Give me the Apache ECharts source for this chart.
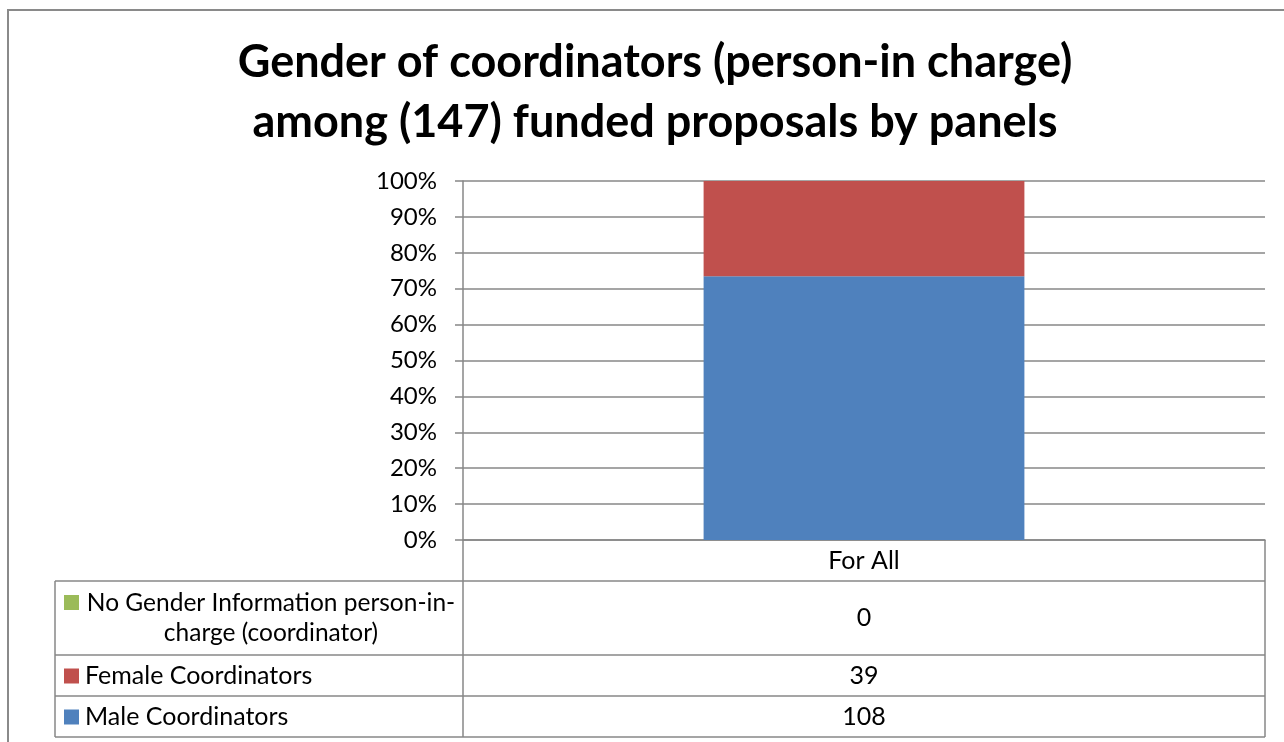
<!DOCTYPE html>
<html>
<head>
<meta charset="utf-8">
<script src="https://cdn.jsdelivr.net/npm/echarts@6/dist/echarts.min.js"></script>
<style>
html,body{margin:0;padding:0;background:#fff;}
#chart{width:1284px;height:742px;}
</style>
</head>
<body>
<div id="chart"></div>
<script>
// ---- data ----
var titleText = 'Gender of coordinators (person-in charge)\namong (147) funded proposals by panels';
var categories = ['For All'];
var seriesNames = ['No Gender Information person-in-\ncharge (coordinator)', 'Female Coordinators', 'Male Coordinators'];
var noGenderValues = [0];
var femaleValues = [39];
var maleValues = [108];
var yTickLabels = ['0%','10%','20%','30%','40%','50%','60%','70%','80%','90%','100%'];

var colors = { noGender: '#9BBB59', female: '#C0504D', male: '#4F81BD' };
var FONT = 'Lato';
var GRID = '#878787';
var FS = 24;
var TFS = 25;

var totals = categories.map(function (c, i) { return noGenderValues[i] + femaleValues[i] + maleValues[i]; });
function pct(arr) { return arr.map(function (v, i) { return v / totals[i] * 100; }); }

var chart = echarts.init(document.getElementById('chart'), null, { renderer: 'canvas' });

var gridLeft = 463, gridRight = 1265, gridTop = 181, gridBottom = 540;
var tableRows = [581, 655, 696, 737];
var tableLeft = 55;

var rowsData = [
  { name: seriesNames[0], values: noGenderValues, color: colors.noGender, top: tableRows[0], bottom: tableRows[1] },
  { name: seriesNames[1], values: femaleValues, color: colors.female, top: tableRows[1], bottom: tableRows[2] },
  { name: seriesNames[2], values: maleValues, color: colors.male, top: tableRows[2], bottom: tableRows[3] }
];

var graphics = [];
// outer frame
graphics.push({ type: 'rect', shape: { x: 8, y: 10, width: 1300, height: 760 }, style: { fill: 'none', stroke: '#8a8a8a', lineWidth: 2 }, silent: true });
function hline(x1, x2, y) {
  graphics.push({ type: 'line', shape: { x1: x1, y1: y, x2: x2, y2: y }, style: { stroke: GRID, lineWidth: 1.5 }, silent: true });
}
function vline(x, y1, y2) {
  graphics.push({ type: 'line', shape: { x1: x, y1: y1, x2: x, y2: y2 }, style: { stroke: GRID, lineWidth: 1.5 }, silent: true });
}
// table lines
vline(gridLeft, gridBottom, tableRows[3]);
vline(gridRight, gridBottom, tableRows[3]);
vline(tableLeft, tableRows[0], tableRows[3]);
tableRows.forEach(function (y) { hline(tableLeft, gridRight, y); });

var colCenter = (gridLeft + gridRight) / 2;
rowsData.forEach(function (r, idx) {
  var cy = (r.top + r.bottom) / 2;
  var multi = r.name.indexOf('\n') >= 0;
  graphics.push({ type: 'rect', shape: { x: 64, y: (multi ? r.top + 14 : cy - 7), width: 15, height: 15 }, style: { fill: r.color }, silent: true });
  graphics.push({
    type: 'text', x: multi ? 271 : 85, y: cy,
    style: { text: r.name, font: (multi ? 24.5 : TFS) + 'px ' + FONT, fill: '#000', textAlign: multi ? 'center' : 'left', textVerticalAlign: 'middle', lineHeight: 30 },
    silent: true
  });
  graphics.push({
    type: 'text', x: colCenter, y: cy,
    style: { text: String(r.values[0]), font: TFS + 'px ' + FONT, fill: '#000', textAlign: 'center', textVerticalAlign: 'middle' },
    silent: true
  });
});

var option = {
  backgroundColor: '#fff',
  animation: false,
  title: {
    text: titleText,
    left: 650, top: 27, textAlign: 'center',
    textStyle: { fontFamily: FONT, fontWeight: 'bold', fontSize: 45, lineHeight: 60, color: '#000' }
  },
  grid: { left: gridLeft, right: 1284 - gridRight, top: gridTop, bottom: 742 - gridBottom, containLabel: false },
  xAxis: {
    type: 'category', data: categories,
    axisLine: { show: true, lineStyle: { color: GRID, width: 1.5 } },
    axisTick: { show: false },
    axisLabel: { fontFamily: FONT, fontSize: TFS, color: '#000', margin: 8 }
  },
  yAxis: {
    type: 'value', min: 0, max: 100, interval: 10,
    axisLine: { show: true, lineStyle: { color: GRID, width: 1.5 } },
    axisTick: { show: true, length: 8, lineStyle: { color: GRID, width: 1.5 } },
    splitLine: { show: true, lineStyle: { color: GRID, width: 1.5 } },
    axisLabel: {
      fontFamily: FONT, fontSize: FS, color: '#000', margin: 26,
      formatter: function (v) { return yTickLabels[Math.round(v / 10)]; }
    }
  },
  series: [
    { name: seriesNames[2], type: 'bar', stack: 'all', data: pct(maleValues), itemStyle: { color: colors.male }, barWidth: '40%' },
    { name: seriesNames[1], type: 'bar', stack: 'all', data: pct(femaleValues), itemStyle: { color: colors.female }, barWidth: '40%' },
    { name: seriesNames[0], type: 'bar', stack: 'all', data: pct(noGenderValues), itemStyle: { color: colors.noGender }, barWidth: '40%' }
  ],
  graphic: graphics
};
chart.setOption(option);
</script>
</body>
</html>
